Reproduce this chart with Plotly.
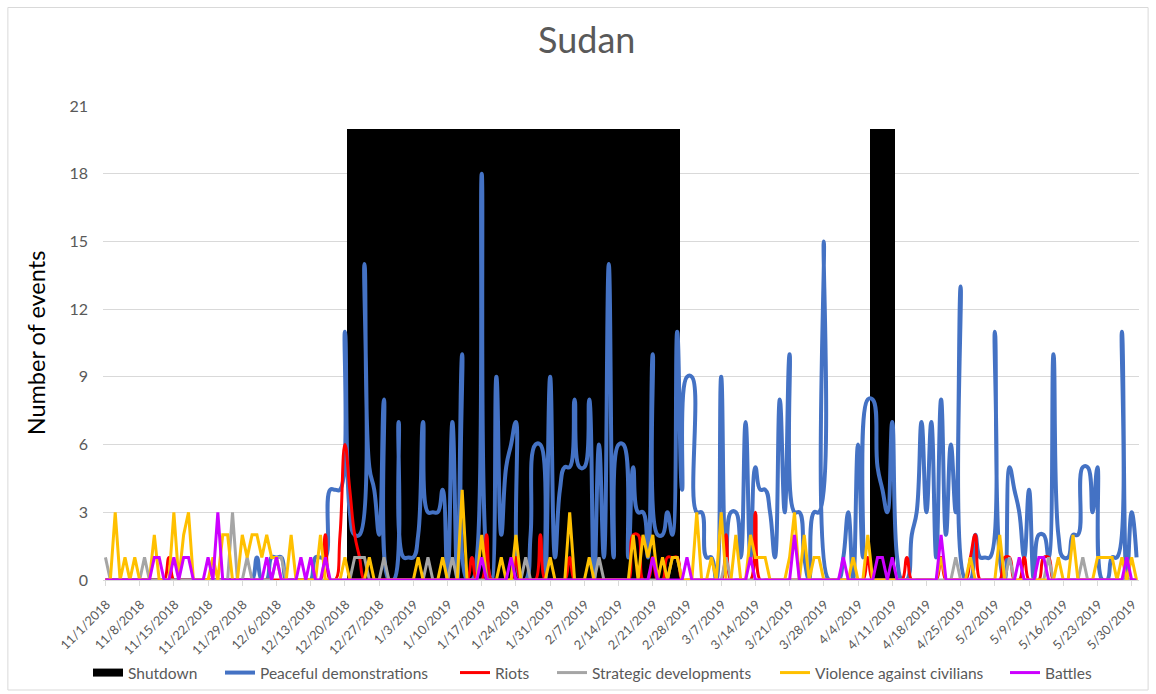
import plotly.graph_objects as go
import pandas as pd

dates = pd.date_range("2018-11-01", "2019-05-31", freq="D")

# one row per week, starting 11/1/2018
peaceful = [
    0,0,0,0,0,0,0,  0,0,0,0,0,0,0,  0,0,0,0,0,0,0,  0,0,0,0,0,0,0,
    0,0,0,1,0,0,1,  1,1,0,0,0,0,0,  0,1,1,1,4,4,4,  11,3,2,2,14,5,4,
    2,8,0,0,7,1,1,  1,2,7,3,3,3,4,  0,7,0,10,0,0,1,  18,1,0,9,2,5,6,
    7,0,0,2,6,6,0,  9,1,4,5,5,8,5,  5,8,0,6,1,14,1,  6,6,1,5,3,3,1,
    10,2,2,3,2,11,4,  9,9,3,3,1,1,0,  9,1,3,3,1,7,1,  5,4,4,3,1,8,3,
    10,3,3,1,0,3,3,  15,0,0,0,1,3,0,  6,1,8,8,5,4,3,  7,1,0,0,2,3,7,
    3,7,1,8,2,6,3,  13,0,0,2,1,1,1,  11,1,0,5,4,3,1,  4,0,2,2,1,10,2,
    1,1,2,2,5,5,3,  5,0,0,1,1,11,0,  3,1,
]
riots = [
    0,0,0,0,0,0,0,  0,0,0,0,0,0,1,  0,0,0,0,0,0,0,  0,0,0,0,0,0,0,
    0,0,0,0,0,0,0,  0,0,0,0,0,0,0,  0,0,0,2,0,0,2,  6,4,2,1,0,0,0,
    0,0,0,0,0,0,0,  0,0,0,0,0,0,0,  0,0,0,0,0,1,0,  0,2,0,0,0,0,0,
    1,0,0,0,0,2,0,  0,0,0,0,1,0,0,  0,0,0,0,0,0,0,  0,0,0,2,2,0,0,
    1,0,0,1,1,1,0,  0,0,0,0,0,0,0,  0,2,0,0,0,0,0,  3,0,0,0,0,0,0,
    0,0,0,0,0,0,0,  0,0,0,0,0,0,0,  0,0,1,0,0,0,0,  0,0,0,1,0,0,0,
    0,0,0,1,0,0,0,  0,0,1,2,0,0,0,  0,0,1,1,0,0,1,  0,0,0,1,1,0,0,
    0,0,0,0,0,0,0,  0,0,0,0,0,0,0,  0,0,
]
strategic = [
    1,0,0,0,0,0,0,  0,1,0,0,0,0,0,  0,0,0,0,0,0,0,  0,0,0,0,0,3,0,
    0,1,0,0,0,0,0,  1,1,0,0,0,0,0,  0,0,0,0,0,0,0,  0,0,1,1,1,0,0,
    0,1,0,0,0,0,0,  0,0,0,1,0,0,0,  0,1,0,0,0,0,0,  0,0,0,0,0,0,0,
    0,0,1,0,0,0,0,  0,0,0,0,0,0,0,  0,0,0,1,0,0,0,  0,0,0,0,0,0,0,
    0,0,0,0,1,1,0,  0,0,0,0,0,0,0,  0,1,0,0,0,0,0,  0,0,0,0,0,0,0,
    0,0,0,0,0,0,0,  0,0,0,0,0,0,0,  0,0,0,0,0,0,0,  0,0,0,0,0,0,0,
    0,0,0,0,0,0,1,  0,0,0,0,0,0,0,  0,0,0,1,0,0,0,  0,0,0,0,1,0,0,
    0,0,0,0,1,0,0,  0,0,0,0,0,0,0,  0,0,
]
violence = [
    0,0,3,0,1,0,1,  0,0,0,2,0,0,0,  3,0,2,3,0,0,0,  0,1,0,2,2,0,0,
    2,1,2,2,1,2,1,  1,0,0,2,0,0,0,  0,0,2,0,0,0,0,  1,0,0,0,0,1,0,
    0,0,0,0,0,0,0,  0,1,0,0,0,0,1,  0,0,0,4,0,0,0,  2,0,0,0,1,0,0,
    2,0,0,0,0,0,0,  1,0,0,0,3,0,0,  0,1,0,0,0,0,0,  0,0,0,2,0,2,1,
    2,0,1,0,1,1,0,  0,0,3,0,0,1,0,  3,0,0,2,0,0,2,  1,1,1,0,0,0,0,
    1,3,0,2,0,1,1,  0,0,0,0,0,0,1,  0,0,2,0,0,0,0,  0,0,0,0,0,0,0,
    0,0,0,1,0,0,0,  0,0,1,0,0,0,0,  0,2,0,0,0,0,0,  0,0,0,0,0,0,1,
    0,0,2,0,0,0,0,  1,1,1,1,0,1,0,  1,0,
]
battles = [
    0,0,0,0,0,0,0,  0,0,0,1,1,0,0,  1,0,1,1,0,0,0,  1,0,3,0,0,0,0,
    0,0,0,0,0,1,0,  1,0,0,0,0,1,0,  1,0,0,1,0,0,0,  0,0,0,0,0,0,0,
    0,0,0,0,0,0,0,  0,0,0,0,0,0,0,  0,0,0,0,0,0,0,  1,0,0,0,0,0,1,
    0,0,0,0,0,0,0,  0,0,0,0,0,0,0,  0,0,0,0,0,0,0,  0,0,0,0,0,0,0,
    1,0,0,0,0,0,0,  1,0,0,0,0,0,0,  0,0,0,0,0,0,1,  0,0,0,0,0,0,0,
    0,2,0,0,0,0,0,  0,0,0,0,1,0,0,  0,0,0,0,1,1,0,  1,0,0,0,0,0,0,
    0,0,0,2,0,0,0,  0,0,0,0,0,0,0,  0,0,0,0,0,1,0,  0,0,1,1,0,0,0,
    0,0,0,0,0,0,0,  0,0,0,0,0,0,1,  0,0,
]
shutdown = (
    [0]*50 + [20]*68 + [0]*39 + [20]*5 + [0]*50
)

tick_labels = [
    "11/1/2018","11/8/2018","11/15/2018","11/22/2018","11/29/2018",
    "12/6/2018","12/13/2018","12/20/2018","12/27/2018","1/3/2019",
    "1/10/2019","1/17/2019","1/24/2019","1/31/2019","2/7/2019",
    "2/14/2019","2/21/2019","2/28/2019","3/7/2019","3/14/2019",
    "3/21/2019","3/28/2019","4/4/2019","4/11/2019","4/18/2019",
    "4/25/2019","5/2/2019","5/9/2019","5/16/2019","5/23/2019","5/30/2019",
]
tick_dates = dates[::7]

W, H = 1156, 694
L, R, T, B = 102.7, 1139.4, 106.0, 580.0
def px(x):
    return (x - L) / (R - L)
def py(y):
    return (B - y) / (B - T)
def cx(x):
    return x / W
def cy(y):
    return 1 - y / H

FONT = "Lato"
GREY_TXT = "#595959"

# legend text start positions (pixels) of the six entries
legend_text_x = [128, 260, 495, 592, 815, 1045]
LEG_Y = 673

fig = go.Figure()
fig.add_trace(go.Bar(
    x=dates, y=shutdown, name="Shutdown", showlegend=False,
    marker=dict(color="black", line=dict(width=0)),
    width=86400000,
))
# legend key for the shutdown columns (wide black block as in the original)
fig.add_trace(go.Scatter(
    x=[None], y=[None], name="Shutdown", mode="lines",
    line=dict(color="black", width=8), legend="legend",
))
series = [
    ("Peaceful demonstrations", peaceful, "#4472C4", 4, "spline"),
    ("Riots", riots, "#FF0000", 3, "spline"),
    ("Strategic developments", strategic, "#A5A5A5", 3, "linear"),
    ("Violence against civilians", violence, "#FFC000", 3, "linear"),
    ("Battles", battles, "#CC00FF", 3, "linear"),
]
for i, (name, vals, col, w, shape) in enumerate(series):
    line = dict(color=col, width=w, shape=shape)
    if shape == "spline":
        line["smoothing"] = 1.3
    fig.add_trace(go.Scatter(
        x=dates, y=vals, name=name, mode="lines", line=line,
        legend="legend%d" % (i + 2),
    ))

legends = {}
for i, tx in enumerate(legend_text_x):
    key = "legend" if i == 0 else "legend%d" % (i + 1)
    legends[key] = dict(
        orientation="h", xref="container", yref="container",
        x=cx(tx - 40), xanchor="left",
        y=cy(LEG_Y), yanchor="middle",
        font=dict(size=15.5, color=GREY_TXT, family=FONT),
        bgcolor="rgba(0,0,0,0)", borderwidth=0,
    )

fig.update_layout(
    width=W, height=H,
    margin=dict(l=L, r=W - R, t=T, b=H - B, pad=0, autoexpand=False),
    paper_bgcolor="white", plot_bgcolor="white",
    bargap=0, showlegend=True,
    font=dict(family=FONT, color=GREY_TXT),
    xaxis=dict(
        type="date", automargin=False,
        range=["2018-10-31 12:00", "2019-05-31 12:00"],
        tickvals=list(tick_dates), ticktext=tick_labels,
        tickangle=-45, tickfont=dict(size=12.8, color=GREY_TXT),
        ticklabelshift=1, ticklabelstandoff=6,
        showgrid=False, showline=True, linecolor="#D9D9D9", linewidth=1,
        ticks="outside", ticklen=5, tickcolor="#D9D9D9",
        zeroline=False,
    ),
    yaxis=dict(
        range=[0, 21], tickvals=[0, 3, 6, 9, 12, 15, 18, 21], automargin=False,
        tickfont=dict(size=16, color=GREY_TXT),
        showgrid=True, gridcolor="#D9D9D9", gridwidth=1,
        zeroline=False, showline=False, ticks="", ticklabelstandoff=14,
        title=dict(text="Number of events", font=dict(size=23.5, color="black", family=FONT), standoff=17),
    ),
    annotations=[dict(
        text="Sudan", xref="paper", yref="paper", x=px(587), y=py(39),
        xanchor="center", yanchor="middle", showarrow=False,
        font=dict(size=36, color=GREY_TXT, family=FONT),
    )],
    shapes=[dict(
        type="rect", xref="paper", yref="paper",
        x0=px(7.5), x1=px(1148.5), y0=py(690), y1=py(7.5),
        line=dict(color="#D9D9D9", width=1), fillcolor="rgba(0,0,0,0)", layer="below",
    )],
    **legends,
)

fig.write_html("out.html")
